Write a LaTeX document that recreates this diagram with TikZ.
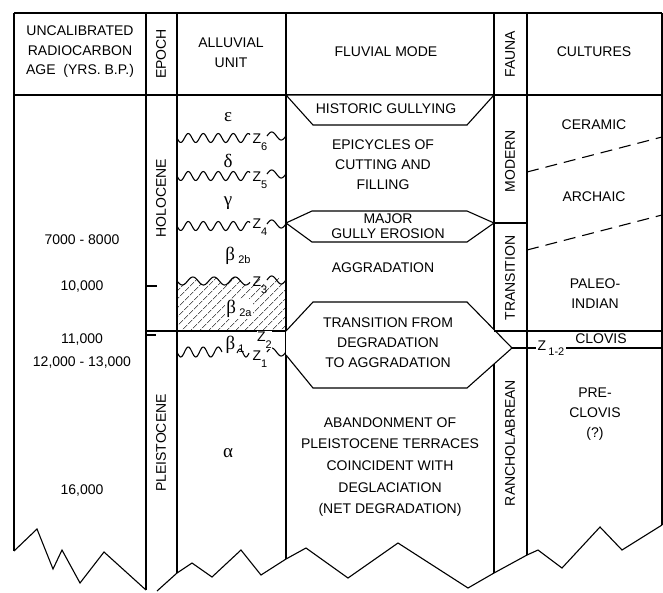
\documentclass[tikz,border=0pt]{standalone}
\usepackage{fontspec}
\setmainfont{Liberation Sans}
\newfontfamily\greekfont{Liberation Serif}
\usetikzlibrary{patterns.meta}

\newcommand{\zsub}[1]{Z\raisebox{-7pt}{\fontsize{11}{11}\selectfont #1}}
\newcommand{\gsub}[2]{{\greekfont #1}\,\raisebox{-3pt}{\fontsize{11}{11}\selectfont #2}}

\begin{document}
\begin{tikzpicture}[x=1pt, y=-1pt, line width=1.1pt,
  every node/.style={font=\fontsize{14}{20}\selectfont, inner sep=1pt},
  lbl/.style={align=center},
  vlbl/.style={rotate=90},
  greek/.style={font=\fontsize{19}{19}\selectfont\greekfont},
  zlbl/.style={anchor=base west, font=\fontsize{14}{14}\selectfont},
  mode/.style={draw, fill=white},
  cut/.style={dash pattern=on 12pt off 7pt}
]
\useasboundingbox (0,0) rectangle (663,592);

% columns and frame
\draw (14,13) -- (662,13);
\draw (14,95) -- (662,95);
\draw (14,13) -- (14,551);
\draw (146,13) -- (146,590);
\draw (177,13) -- (177,573);
\draw (286,13) -- (286,559);
\draw (494,13) -- (494,573);
\draw (527,13) -- (527,555);
\draw (662,13) -- (662,525);

% torn lower edge
\draw (14,551) -- (37,529) -- (53,569) -- (62,550) -- (80,583) -- (104,552) -- (146,590);
\draw (157,591) -- (177,573) -- (192,563) -- (212,577) -- (241,550) -- (261,575)
  -- (286,559) -- (306,548) -- (348,578) -- (398,543) -- (468,588) -- (494,573)
  -- (527,555) -- (538,550) -- (562,568) -- (600,527) -- (622,550) -- (662,525);

% headings
\node[lbl, font=\fontsize{14}{19.5}\selectfont] (agehd) at (80,52) {UNCALIBRATED\\RADIOCARBON\\AGE\ \ (YRS. B.P.)};
\node[vlbl] (epochhd) at (161,54) {EPOCH};
\node[lbl] (unithd) at (231,53) {ALLUVIAL\\UNIT};
\node (modehd) at (386,52) {FLUVIAL MODE};
\node[vlbl] (faunahd) at (510,54) {FAUNA};
\node (culthd) at (594,52) {CULTURES};

% ages
\node (a7) at (82,240) {7000 - 8000};
\node (a10) at (82,287) {10,000};
\node (a11) at (82,339) {11,000};
\node (a12) at (82,362) {12,000 - 13,000};
\node (a16) at (82,490) {16,000};

% epochs
\draw (146,286) -- (157,286);
\draw (146,335) -- (156,335);
\draw (146,331) -- (286,331);
\node[vlbl] (holo) at (161,198) {HOLOCENE};
\node[vlbl] (pleist) at (161,443) {PLEISTOCENE};

% alluvial units
\fill[pattern={Lines[angle=45, distance=6.5pt, line width=0.6pt]}]
  plot[domain=177:286, samples=90] (\x,{281+4*sin((\x-177)*17)}) -- (286,331) -- (177,331) -- cycle;
\foreach \yy in {138,176,226} {
  \draw plot[domain=177:250, samples=70] (\x,{\yy+4.5*sin((\x-177)*24)});
  \draw plot[domain=267:286, samples=30] (\x,{\yy-2-4*sin((\x-267)*19)});
}
\draw plot[domain=177:250, samples=70] (\x,{281+4*sin((\x-177)*17)});
\draw plot[domain=267:286, samples=30] (\x,{280-4*sin((\x-267)*19)});
\draw plot[domain=177:222, samples=50] (\x,{352+5*sin((\x-177)*24)});
\draw plot[domain=237:249, samples=20] (\x,{353-4*sin((\x-237)*30)});
\draw plot[domain=267:286, samples=30] (\x,{352-4*sin((\x-267)*19)});

\node[greek] (eps) at (228,117) {ε};
\node[greek] (del) at (228,161) {δ};
\node[greek] (gam) at (228,203) {γ};
\node[greek] (alp) at (228,453) {α};
\node[font=\fontsize{19}{19}\selectfont] (b2b) at (238,256) {\gsub{β}{2b}};
\node[font=\fontsize{19}{19}\selectfont, fill=white] (b2a) at (239,309) {\gsub{β}{2a}};
\node[font=\fontsize{19}{19}\selectfont] (b1) at (235,345) {\gsub{β}{1}};

\node[zlbl] (z6) at (251,143) {\zsub{6}};
\node[zlbl] (z5) at (251,181) {\zsub{5}};
\node[zlbl] (z4) at (251,228) {\zsub{4}};
\node[zlbl] (z3) at (251,286) {\zsub{3}};
\node[zlbl, fill=white, inner sep=0.5pt] (z2) at (256,341) {\zsub{2}};
\node[zlbl] (z1) at (251,360) {\zsub{1}};

% fluvial modes
\draw[mode] (286,95) -- (494,95) -- (467,125) -- (313,125) -- cycle;
\node (hist) at (386,109) {HISTORIC GULLYING};
\node[lbl] (epic) at (383,165) {EPICYCLES OF\\CUTTING AND\\FILLING};
\draw[mode] (286,223) -- (312,211) -- (467,211) -- (494,223) -- (467,242) -- (312,242) -- cycle;
\node[lbl, font=\fontsize{14}{15}\selectfont] (major) at (388,226) {MAJOR\\GULLY EROSION};
\node (aggr) at (383,268) {AGGRADATION};
\draw[mode] (286,331) -- (313,302) -- (467,302) -- (512,348) -- (467,388) -- (313,388) -- (286,355);
\node[lbl] (trans) at (388,343) {TRANSITION FROM\\DEGRADATION\\TO AGGRADATION};
\node[lbl, font=\fontsize{14}{21.7}\selectfont] (aband) at (390,467) {ABANDONMENT OF\\PLEISTOCENE TERRACES\\COINCIDENT WITH\\DEGLACIATION\\(NET DEGRADATION)};

% fauna
\draw (494,223) -- (527,223);
\draw (494,331) -- (662,331);
\node[vlbl] (modern) at (510,161) {MODERN};
\node[vlbl] (transn) at (510,278) {TRANSITION};
\node[vlbl] (ranch) at (510,443) {RANCHOLABREAN};

% cultures
\coordinate (tip) at (512,348);
\node[zlbl, anchor=west] (z12) at (536,348) {Z\,\raisebox{-5pt}{\fontsize{11}{11}\selectfont 1-2}};
\draw (tip) -- (z12.west);
\draw (z12.east) -- (662,348);
\draw[cut] (527,172) -- (662,137);
\draw[cut] (527,250) -- (662,215);
\node (ceram) at (594,125) {CERAMIC};
\node (arch) at (594,197) {ARCHAIC};
\node[lbl] (paleo) at (595,294) {PALEO-\\INDIAN};
\node (clovis) at (601,339) {CLOVIS};
\node[lbl] (pre) at (595,414) {PRE-\\CLOVIS\\(?)};
\end{tikzpicture}
\end{document}
